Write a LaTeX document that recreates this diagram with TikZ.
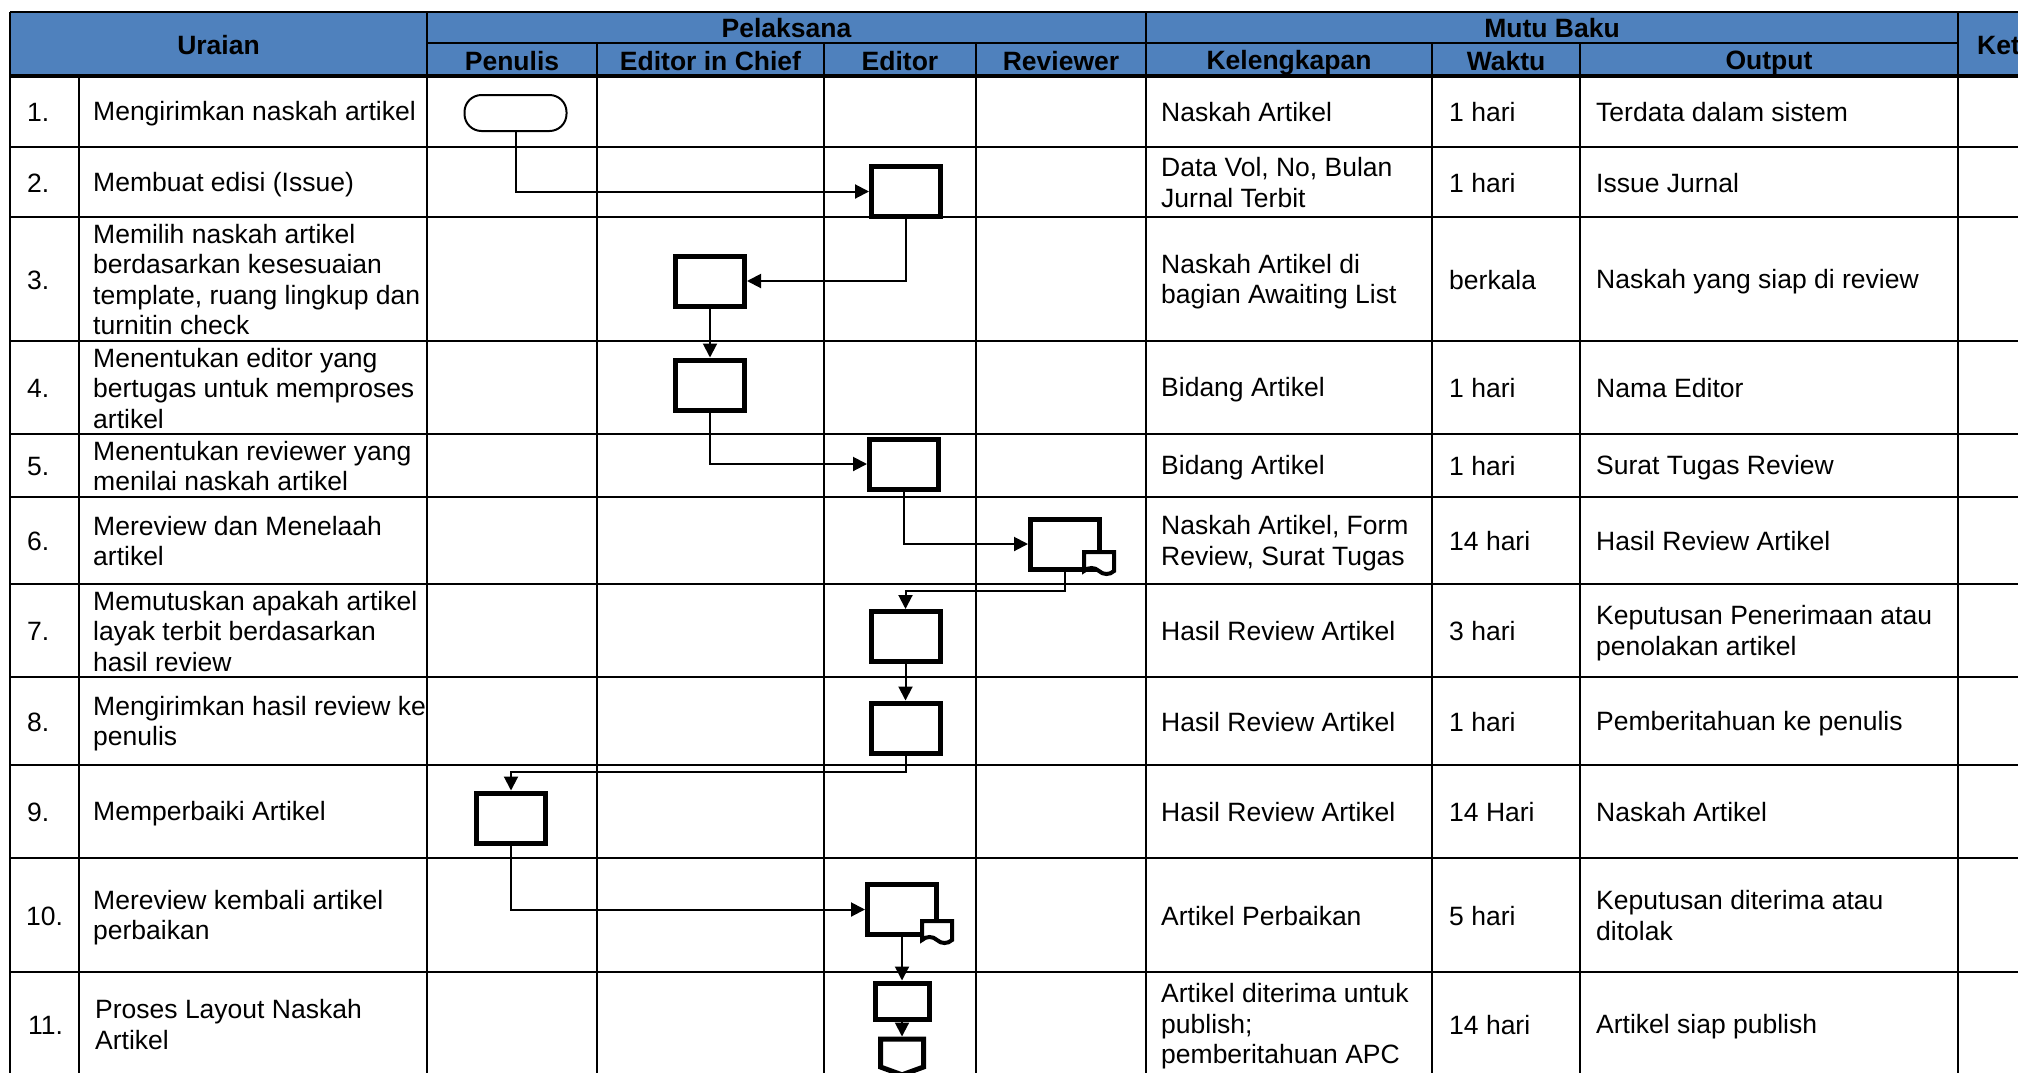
\documentclass[tikz,border=0pt]{standalone}
\usepackage{fontspec}
\setmainfont{Liberation Sans}
\usetikzlibrary{arrows.meta,shapes.symbols}
\definecolor{headblue}{RGB}{79,129,189}
\newcommand\cellstrut{\rule[-4pt]{0pt}{28pt}}

\begin{document}
\begin{tikzpicture}[x=1pt, y=-1pt,
  font=\fontsize{26.5pt}{30.5pt}\selectfont,
  grid/.style={line width=2.5pt},
  head/.style={font=\fontsize{26.5pt}{30.5pt}\selectfont\bfseries, inner sep=0pt,
               execute at begin node=\cellstrut},
  cell/.style={anchor=west, align=left, inner sep=0pt,
               execute at begin node=\cellstrut, execute at end node=\cellstrut},
  multicell/.style={cell, yshift=-2.5pt},
  proc/.style={draw, line width=5pt, fill=white, inner sep=0pt,
               minimum width=69pt, minimum height=50pt},
  term/.style={draw, line width=2pt, fill=white, rounded corners=17pt,
               minimum width=102pt, minimum height=36pt},
  doc/.style={draw, line width=4pt, fill=white, shape=tape, tape bend top=none,
              tape bend bottom=out and in, tape bend height=6pt, inner sep=0pt,
              minimum width=30pt, minimum height=22pt},
  offpage/.style={draw, line width=5pt, fill=white, shape=signal, signal to=south,
                  signal from=nowhere, signal pointer angle=140, inner sep=0pt,
                  minimum width=43pt, minimum height=28pt},
  arr/.style={-{Triangle[length=14pt,width=14pt]}, line width=2pt}
]
  \clip (0,0) rectangle (2018,1072);
  \fill[white] (0,0) rectangle (2018,1072);

  % --- Kepala tabel ---
  \fill[headblue] (10,12) rectangle (2030,76);
  \draw[grid] (10,12) -- (2030,12);
  \draw[grid] (427,43) -- (1958,43);
  \draw[grid] (10,12) -- (10,1080) (427,12) -- (427,1080)
              (1146,12) -- (1146,1080) (1958,12) -- (1958,1080);
  \draw[grid] (597,43) -- (597,1080) (824,43) -- (824,1080) (976,43) -- (976,1080)
              (1432,43) -- (1432,1080) (1580,43) -- (1580,1080);
  \draw[grid] (79,76) -- (79,1080);
  \draw[line width=4pt] (10,76) -- (2030,76);

  % --- Garis baris ---
  \draw[grid] (10,147) -- (2030,147) (10,217) -- (2030,217) (10,341) -- (2030,341)
              (10,434) -- (2030,434) (10,497) -- (2030,497) (10,584) -- (2030,584)
              (10,677) -- (2030,677) (10,765) -- (2030,765) (10,858) -- (2030,858)
              (10,972) -- (2030,972);

  \node[head] (hUraian)  at (218.5,44) {Uraian};
  \node[head] (hPelaks)  at (786.5,27) {Pelaksana};
  \node[head] (hMutu)    at (1552,27)  {Mutu Baku};
  \node[head] (hPenulis) at (512,60)   {Penulis};
  \node[head] (hEic)     at (710.5,60) {Editor in Chief};
  \node[head] (hEditor)  at (900,60)   {Editor};
  \node[head] (hReview)  at (1061,60)  {Reviewer};
  \node[head] (hKeleng)  at (1289,60)  {Kelengkapan};
  \node[head] (hWaktu)   at (1506,60)  {Waktu};
  \node[head] (hOutput)  at (1769,60)  {Output};
  \node[head, anchor=west] (hKet) at (1977,44) {Ket};

  % --- Nomor dan uraian ---
  \node[cell] (n1)  at (27,111.5) {1.};
  \node[cell] (n2)  at (27,182)   {2.};
  \node[cell] (n3)  at (27,279)   {3.};
  \node[cell] (n4)  at (27,387.5) {4.};
  \node[cell] (n5)  at (27,465.5) {5.};
  \node[cell] (n6)  at (27,540.5) {6.};
  \node[cell] (n7)  at (27,630.5) {7.};
  \node[cell] (n8)  at (27,721)   {8.};
  \node[cell] (n9)  at (27,811.5) {9.};
  \node[cell] (n10) at (26,915)   {10.};
  \node[cell] (n11) at (28,1024)  {11.};

  \node[cell] (u1)  at (93,111.5) {Mengirimkan naskah artikel};
  \node[cell] (u2)  at (93,182)   {Membuat edisi (Issue)};
  \node[multicell] (u3)  at (93,279)   {Memilih naskah artikel\\berdasarkan kesesuaian\\template, ruang lingkup dan\\turnitin check};
  \node[multicell] (u4)  at (93,387.5) {Menentukan editor yang\\bertugas untuk memproses\\artikel};
  \node[multicell] (u5)  at (93,465.5) {Menentukan reviewer yang\\menilai naskah artikel};
  \node[multicell] (u6)  at (93,540.5) {Mereview dan Menelaah\\artikel};
  \node[multicell] (u7)  at (93,630.5) {Memutuskan apakah artikel\\layak terbit berdasarkan\\hasil review};
  \node[multicell] (u8)  at (93,721)   {Mengirimkan hasil review ke\\penulis};
  \node[cell] (u9)  at (93,811.5) {Memperbaiki Artikel};
  \node[multicell] (u10) at (93,915)   {Mereview kembali artikel\\perbaikan};
  \node[multicell] (u11) at (95,1024)  {Proses Layout Naskah\\Artikel};

  % --- Mutu baku ---
  \node[cell] (k1)  at (1161,111.5) {Naskah Artikel};
  \node[multicell] (k2)  at (1161,182)   {Data Vol, No, Bulan\\Jurnal Terbit};
  \node[multicell] (k3)  at (1161,279)   {Naskah Artikel di\\bagian Awaiting List};
  \node[cell] (k4)  at (1161,387.5) {Bidang Artikel};
  \node[cell] (k5)  at (1161,465.5) {Bidang Artikel};
  \node[multicell] (k6)  at (1161,540.5) {Naskah Artikel, Form\\Review, Surat Tugas};
  \node[cell] (k7)  at (1161,630.5) {Hasil Review Artikel};
  \node[cell] (k8)  at (1161,721)   {Hasil Review Artikel};
  \node[cell] (k9)  at (1161,811.5) {Hasil Review Artikel};
  \node[cell] (k10) at (1161,915)   {Artikel Perbaikan};
  \node[multicell] (k11) at (1161,1024)  {Artikel diterima untuk\\publish;\\pemberitahuan APC};

  \node[cell] (w1)  at (1449,111.5) {1 hari};
  \node[cell] (w2)  at (1449,182)   {1 hari};
  \node[cell] (w3)  at (1449,279)   {berkala};
  \node[cell] (w4)  at (1449,387.5) {1 hari};
  \node[cell] (w5)  at (1449,465.5) {1 hari};
  \node[cell] (w6)  at (1449,540.5) {14 hari};
  \node[cell] (w7)  at (1449,630.5) {3 hari};
  \node[cell] (w8)  at (1449,721)   {1 hari};
  \node[cell] (w9)  at (1449,811.5) {14 Hari};
  \node[cell] (w10) at (1449,915)   {5 hari};
  \node[cell] (w11) at (1449,1024)  {14 hari};

  \node[cell] (o1)  at (1596,111.5) {Terdata dalam sistem};
  \node[cell] (o2)  at (1596,182)   {Issue Jurnal};
  \node[cell] (o3)  at (1596,279)   {Naskah yang siap di review};
  \node[cell] (o4)  at (1596,387.5) {Nama Editor};
  \node[cell] (o5)  at (1596,465.5) {Surat Tugas Review};
  \node[cell] (o6)  at (1596,540.5) {Hasil Review Artikel};
  \node[multicell] (o7)  at (1596,630.5) {Keputusan Penerimaan atau\\penolakan artikel};
  \node[cell] (o8)  at (1596,721)   {Pemberitahuan ke penulis};
  \node[cell] (o9)  at (1596,811.5) {Naskah Artikel};
  \node[multicell] (o10) at (1596,915)   {Keputusan diterima atau\\ditolak};
  \node[cell] (o11) at (1596,1024)  {Artikel siap publish};

  % --- Alur pelaksana ---
  \node[term] (kirim)    at (515.5,113) {};
  \node[proc] (edisi)    at (906,191.5) {};
  \node[proc] (pilih)    at (710,281)   {};
  \node[proc] (tentuEd)  at (710,385)   {};
  \node[proc] (tentuRev) at (904,464)   {};
  \node[proc] (review)   at (1065,544)  {};
  \node[doc]  (reviewDoc) at (1099,560) {};
  \node[proc] (putus)    at (905.5,636.5) {};
  \node[proc] (hasil)    at (905.5,728) {};
  \node[proc] (perbaiki) at (511,818)   {};
  \node[proc] (review2)  at (902,909.5) {};
  \node[doc]  (review2Doc) at (937,929) {};
  \node[proc, minimum width=54pt, minimum height=36pt] (layout) at (902,1001) {};
  \node[offpage] (lanjut) at (902,1053) {};

  \draw[arr] (kirim.south) |- (edisi.west);
  \draw[arr] (edisi.south) |- (pilih.east);
  \draw[arr] (pilih) -- (tentuEd);
  \draw[arr] (tentuEd.south) |- (tentuRev.west);
  \draw[arr] (tentuRev.south) |- (review.west);
  \draw[arr] (review.south) -- ++(0,19) -| (putus.north);
  \draw[arr] (putus) -- (hasil);
  \draw[arr] (hasil.south) -- ++(0,16) -| (perbaiki.north);
  \draw[arr] (perbaiki.south) |- (review2.west);
  \draw[arr] (review2) -- (layout);
  \draw[arr] (layout) -- (lanjut);
\end{tikzpicture}
\end{document}
